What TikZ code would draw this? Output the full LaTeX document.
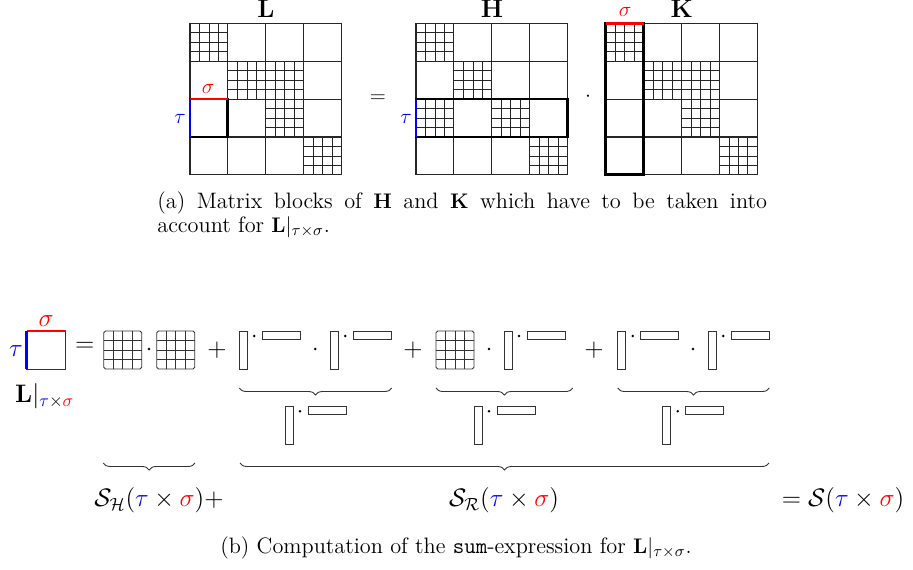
\documentclass[tikz,border=0pt]{standalone}
\usetikzlibrary{decorations.pathreplacing}
\begin{document}
\begin{tikzpicture}[x = .02cm, y = -.02cm,
		grd/.style = {line width = .6pt, black!85},
		sub/.style = {line width = .4pt, black!85},
		hl/.style = {line width = 1.6pt},
		box/.style = {line width = .5pt, black!80},
		brc/.style = {decorate, decoration = {brace, mirror, amplitude = 4pt}, line width = .5pt, black!80}]
	\useasboundingbox (0, 0) rectangle (913, 570);
	\def\cs{37.9} \def\top{23.3}
	\def\bmat(#1)#2{
		\foreach \r/\c in {#2} \foreach \k in {1, 2, 3} {
			\draw[sub] ({#1+(\c+\k/4)*\cs}, {\top+\r*\cs})--++(0, \cs);
			\draw[sub] ({#1+\c*\cs}, {\top+(\r+\k/4)*\cs})--++(\cs, 0);
		}
		\foreach \k in {0, ..., 4}
		\draw[grd] ({#1+\k*\cs}, \top)--++(0, 4*\cs) (#1, {\top+\k*\cs})--++(4*\cs, 0);
	}
	\def\hblk(#1, #2){
		\draw[box, rounded corners = 1pt] (#1, #2) rectangle ++(38, 38);
		\foreach \k in {1, 2, 3} \draw[box] ({#1+9.5*\k}, #2)--++(0, 38) (#1, {#2+9.5*\k})--++(38, 0);
	}
	\def\lr(#1, #2){
		\draw[box] (#1, #2) rectangle ++(8, 38) ({#1+23}, #2) rectangle ++(38, 8);
		\fill ({#1+15}, {#2+5}) circle (.8pt);
	}
	% (a) L = H . K
	\bmat(190){0/0, 1/1, 1/2, 2/2, 3/3}
	\bmat(416){0/0, 1/1, 2/0, 2/2, 3/3}
	\bmat(605.7){0/0, 1/1, 1/2, 2/2, 3/3}
	\draw[hl] (190, {\top+2*\cs}) rectangle ++(\cs, \cs);
	\draw[hl] (416, {\top+2*\cs}) rectangle ++(4*\cs, \cs);
	\draw[hl] (605.7, \top) rectangle ++(\cs, 4*\cs);
	\draw[hl, red] (190, {\top+2*\cs})--++(\cs, 0) (605.7, \top)--++(\cs, 0);
	\draw[hl, blue] (190, {\top+2*\cs})--++(0, \cs) (416, {\top+2*\cs})--++(0, \cs);
	\node (Lt) at (266, 9) {\Large$\mathbf{L}$};
	\node (Ht) at (492, 9) {\Large$\mathbf{H}$};
	\node (Kt) at (681.7, 9) {\Large$\mathbf{K}$};
	\node[red] (sL) at (208, 89) {\large$\sigma$};
	\node[red] (sK) at (625, 12) {\large$\sigma$};
	\node[blue] (tL) at (180, 119) {\large$\tau$};
	\node[blue] (tH) at (406, 119) {\large$\tau$};
	\node (eqA) at (378, 99) {\large$=$};
	\node (dotA) at (588, 97) {\large$\cdot$};
	\node[anchor = north west, text width = 347pt, align = justify, inner sep = 0pt,
		font = \fontsize{12.7}{14}\selectfont] (capA) at (157, 191)
		{(a) Matrix blocks of $\mathbf{H}$ and $\mathbf{K}$ which have to be taken into\linebreak account for $\mathbf{L}|_{\tau\times\sigma}$.};
	% (b) sum-expression
	\draw[box] (26.7, 331) rectangle (65.7, 369);
	\draw[hl, red] (26.7, 331)--(65.7, 331);
	\draw[hl, blue] (26.7, 331)--(26.7, 369);
	\node[red] (sB) at (46, 321) {\Large$\sigma$};
	\node[blue] (tB) at (16, 351) {\Large$\tau$};
	\node[anchor = west] (Lb) at (9, 396) {\Large$\mathbf{L}|_{\color{blue}\tau\color{black}\times\color{red}\sigma}$};
	\node (eqB) at (84.7, 347) {\Large$=$};
	\hblk(103.7, 331) \hblk(156.7, 331)
	\lr(239.3, 331) \lr(330.3, 331)
	\hblk(436, 331) \lr(504, 331)
	\lr(617.7, 331) \lr(708.3, 331)
	\lr(285, 406.3) \lr(474, 406.3) \lr(662.7, 406.3)
	\foreach \x in {149, 315.3, 489, 693} \fill (\x, 349) circle (.8pt);
	\foreach \x in {217, 413, 594} \node at (\x, 350) {\Large$+$};
	\foreach \a/\b/\y in {239.3/391.7/388, 436/572.7/388, 617.7/769.3/388, 103.3/195/463, 240/769/463}
	\draw[brc] (\a, \y)--(\b, \y);
	\node (SH) at (159, 500) {\Large$\mathcal{S}_{\mathcal{H}}({\color{blue}\tau}\times{\color{red}\sigma})+$};
	\node (SR) at (504, 500) {\Large$\mathcal{S}_{\mathcal{R}}({\color{blue}\tau}\times{\color{red}\sigma})$};
	\node (SS) at (843, 500) {\Large$=\mathcal{S}({\color{blue}\tau}\times{\color{red}\sigma})$};
	\node[font = \fontsize{12.7}{15}\selectfont] (capB) at (456, 548)
		{(b) Computation of the \texttt{sum}-expression for $\mathbf{L}|_{\tau\times\sigma}$.};
\end{tikzpicture}
\end{document}
